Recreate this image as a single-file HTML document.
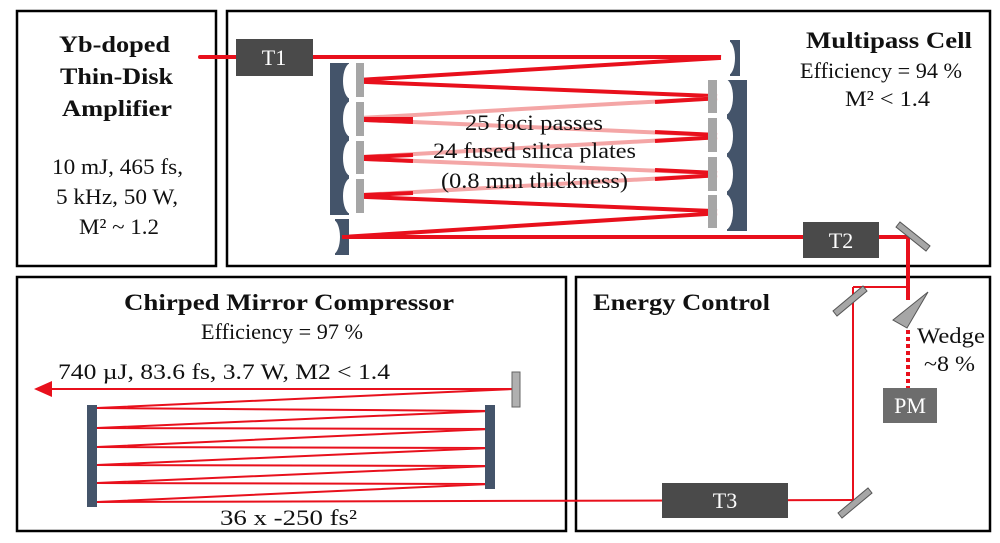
<!DOCTYPE html>
<html><head><meta charset="utf-8"><style>
html,body{margin:0;padding:0;background:#fff}
svg{display:block}
text{font-family:"Liberation Serif",serif;fill:#111}
.b{font-weight:bold}
</style></head><body>
<svg width="1000" height="543" viewBox="0 0 1000 543" xmlns="http://www.w3.org/2000/svg">
<rect width="1000" height="543" fill="#fff"/>
<g fill="none" stroke="#000" stroke-width="2.5">
<rect x="17" y="11" width="199" height="255"/>
<rect x="227" y="11" width="763" height="255"/>
<rect x="17" y="277" width="549" height="254"/>
<rect x="576" y="277" width="414" height="254"/>
</g>
<g font-size="23" lengthAdjust="spacingAndGlyphs">
<text x="59" y="52" class="b" textLength="111" lengthAdjust="spacingAndGlyphs">Yb-doped</text>
<text x="60" y="84" class="b" textLength="113" lengthAdjust="spacingAndGlyphs">Thin-Disk</text>
<text x="62" y="116" class="b" textLength="110" lengthAdjust="spacingAndGlyphs">Amplifier</text>
<text x="52" y="174" font-size="22" textLength="131" lengthAdjust="spacingAndGlyphs">10 mJ, 465 fs,</text>
<text x="56" y="204" font-size="22" textLength="122" lengthAdjust="spacingAndGlyphs">5 kHz, 50 W,</text>
<text x="79" y="234" font-size="22" textLength="80" lengthAdjust="spacingAndGlyphs">M² ~ 1.2</text>
</g>
<g stroke="#e8101c" stroke-width="4" fill="none" stroke-linecap="round">
<line x1="200" y1="57" x2="736" y2="57"/>
<line x1="736" y1="57" x2="342" y2="81"/>
<line x1="342" y1="81" x2="738" y2="97"/>
</g>
<g stroke="#f4a6a6" stroke-width="4" fill="none">
<line x1="738" y1="97" x2="342" y2="119"/>
<line x1="342" y1="119" x2="738" y2="136"/>
<line x1="738" y1="136" x2="342" y2="158"/>
<line x1="342" y1="158" x2="738" y2="174"/>
<line x1="738" y1="174" x2="342" y2="196"/>
</g>
<g stroke="#e8101c" stroke-width="4" fill="none">
<line x1="342" y1="119" x2="413" y2="119"/>
<line x1="342" y1="119" x2="413" y2="122"/>
<line x1="342" y1="158" x2="413" y2="155"/>
<line x1="342" y1="158" x2="413" y2="161"/>
<line x1="342" y1="196" x2="413" y2="193"/>
<line x1="738" y1="97" x2="655" y2="102"/>
<line x1="738" y1="136" x2="655" y2="132"/>
<line x1="738" y1="136" x2="655" y2="141"/>
<line x1="738" y1="174" x2="655" y2="170"/>
<line x1="738" y1="174" x2="655" y2="179"/>
<line x1="342" y1="196" x2="738" y2="212"/>
<line x1="738" y1="212" x2="342" y2="237"/>
<line x1="342" y1="237" x2="908" y2="237"/>
</g>
<g fill="#44546a">
<rect x="330" y="63" width="19" height="152"/>
<rect x="727" y="80" width="20" height="151"/>
<rect x="730" y="40" width="10" height="36"/>
<rect x="335" y="219" width="14" height="36"/>
</g>
<g fill="#fff">
<ellipse cx="351" cy="81" rx="8" ry="18"/>
<ellipse cx="351" cy="119" rx="8" ry="18"/>
<ellipse cx="351" cy="158" rx="8" ry="18"/>
<ellipse cx="351" cy="196" rx="8" ry="18"/>
<ellipse cx="725" cy="97" rx="8" ry="18"/>
<ellipse cx="725" cy="136" rx="8" ry="18"/>
<ellipse cx="725" cy="174" rx="8" ry="18"/>
<ellipse cx="725" cy="212" rx="8" ry="18"/>
<ellipse cx="728" cy="58" rx="7" ry="17"/>
<ellipse cx="333" cy="237" rx="7" ry="17"/>
</g>
<g stroke="#e8101c" stroke-width="4"><line x1="342" y1="237" x2="350" y2="237"/></g>
<g fill="#a6a6a6">
<rect x="356" y="63" width="8" height="34"/><rect x="356" y="102" width="8" height="34"/>
<rect x="356" y="141" width="8" height="33"/><rect x="356" y="179" width="8" height="34"/>
<rect x="708" y="80" width="9" height="33"/><rect x="708" y="118" width="9" height="34"/>
<rect x="708" y="157" width="9" height="34"/><rect x="708" y="195" width="9" height="33"/>
</g>
<g font-size="22">
<text x="465" y="130" textLength="138" lengthAdjust="spacingAndGlyphs">25 foci passes</text>
<text x="433" y="158" textLength="203" lengthAdjust="spacingAndGlyphs">24 fused silica plates</text>
<text x="441" y="188" textLength="187" lengthAdjust="spacingAndGlyphs">(0.8 mm thickness)</text>
<text x="806" y="48" class="b" font-size="23" textLength="166" lengthAdjust="spacingAndGlyphs">Multipass Cell</text>
<text x="800" y="78" textLength="162" lengthAdjust="spacingAndGlyphs">Efficiency = 94 %</text>
<text x="845" y="106" textLength="85" lengthAdjust="spacingAndGlyphs">M² &lt; 1.4</text>
</g>
<rect x="236" y="39" width="77" height="37" fill="#4a4a4a"/>
<text x="274" y="65" text-anchor="middle" font-size="22" style="fill:#fff">T1</text>
<rect x="803" y="222" width="76" height="36" fill="#4a4a4a"/>
<text x="841" y="248" text-anchor="middle" font-size="22" style="fill:#fff">T2</text>
<g stroke="#e8101c" fill="none">
<line x1="908" y1="237" x2="908" y2="300" stroke-width="4"/>
<line x1="908" y1="330" x2="908" y2="388" stroke-width="4" stroke-dasharray="4,3"/>
<line x1="906" y1="287" x2="853" y2="287" stroke-width="2"/>
<line x1="853" y1="287" x2="853" y2="500" stroke-width="2"/>
<line x1="853" y1="500" x2="97" y2="502" stroke-width="2"/>
</g>
<g fill="#a6a6a6" stroke="#555" stroke-width="1">
<polygon points="896,227 900,222 930,246 926,251"/>
<polygon points="833,311 863,286 867,291 837,316"/>
<polygon points="838,513 868,488 872,493 842,518"/>
<polygon points="893,320 928,292 907,328"/>
</g>
<rect x="883" y="388" width="54" height="35" fill="#6d6d6d"/>
<text x="910" y="413" text-anchor="middle" font-size="22" style="fill:#fff">PM</text>
<text x="917" y="343" font-size="22" textLength="68" lengthAdjust="spacingAndGlyphs">Wedge</text>
<text x="924" y="371" font-size="22" textLength="51" lengthAdjust="spacingAndGlyphs">~8 %</text>
<text x="593" y="310" font-size="23" class="b" textLength="177" lengthAdjust="spacingAndGlyphs">Energy Control</text>
<rect x="662" y="483" width="126" height="35" fill="#4a4a4a"/>
<text x="725" y="508" text-anchor="middle" font-size="22" style="fill:#fff">T3</text>
<g stroke="#e8101c" stroke-width="2" fill="none">
<polyline points="97,502 490,484 97,483 490,466 97,465 490,448 97,447 490,429 97,428 490,411 97,408 514,389"/>
<line x1="514" y1="389" x2="48" y2="389"/>
</g>
<polygon points="34,389 52,381 52,397" fill="#e8101c"/>
<rect x="87" y="405" width="10" height="102" fill="#44546a"/>
<rect x="485" y="405" width="10" height="84" fill="#44546a"/>
<rect x="512" y="372" width="8" height="35" fill="#b0b0b0" stroke="#666" stroke-width="1"/>
<g font-size="22">
<text x="124" y="310" class="b" font-size="23" textLength="330" lengthAdjust="spacingAndGlyphs">Chirped Mirror Compressor</text>
<text x="201" y="339" textLength="162" lengthAdjust="spacingAndGlyphs">Efficiency = 97 %</text>
<text x="220" y="525" textLength="137" lengthAdjust="spacingAndGlyphs">36 x -250 fs²</text>
<text x="58" y="379" textLength="332" lengthAdjust="spacingAndGlyphs">740 µJ, 83.6 fs, 3.7 W, M2 &lt; 1.4</text>
</g>
</svg>
</body></html>
